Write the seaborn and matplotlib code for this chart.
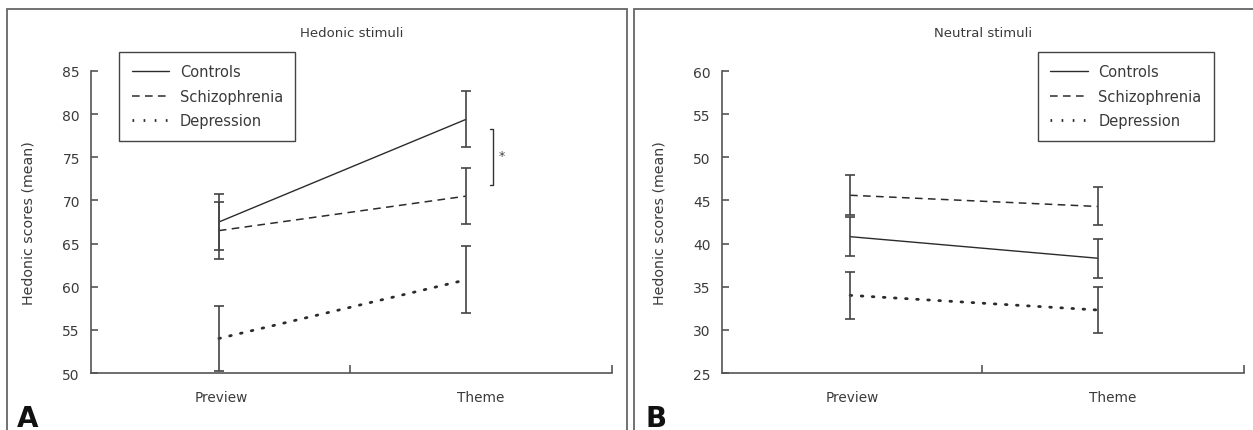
import numpy as np
import pandas as pd
import matplotlib
matplotlib.use('Agg')
import matplotlib.pyplot as plt
import seaborn as sns
from matplotlib.lines import Line2D
from matplotlib.patches import Rectangle

sns.set_theme(style='white')
plt.rcParams['font.family'] = ['DejaVu Sans']

# data
conditions = ['Preview', 'Theme']
groups = ['Controls', 'Schizophrenia', 'Depression']

hedonic_mean = {'Controls': [67.5, 79.4], 'Schizophrenia': [66.5, 70.5], 'Depression': [54.0, 60.8]}
hedonic_err = {'Controls': [3.3, 3.25], 'Schizophrenia': [3.3, 3.25], 'Depression': [3.8, 3.9]}
neutral_mean = {'Controls': [40.8, 38.3], 'Schizophrenia': [45.6, 44.3], 'Depression': [34.0, 32.3]}
neutral_err = {'Controls': [2.25, 2.25], 'Schizophrenia': [2.3, 2.2], 'Depression': [2.7, 2.7]}

hedonic_ticks = [50, 55, 60, 65, 70, 75, 80, 85]
neutral_ticks = [25, 30, 35, 40, 45, 50, 55, 60]

dash_styles = {'Controls': '', 'Schizophrenia': (5, 3.5), 'Depression': (0.6, 3.4)}
line_widths = {'Controls': 1.0, 'Schizophrenia': 1.1, 'Depression': 2.0}
ink = '#2b2b2b'
axis_col = '#555555'
text_col = '#3a3a3a'


def to_frame(means):
    rows = []
    for g in groups:
        for i, c in enumerate(conditions):
            rows.append({'group': g, 'x': i, 'mean': means[g][i]})
    return pd.DataFrame(rows)


def draw_panel(ax, means, errs, ticks, title, legend_anchor):
    df = to_frame(means)
    for g in groups:
        sub = df[df.group == g]
        sns.lineplot(data=sub, x='x', y='mean', ax=ax, color=ink,
                     lw=line_widths[g], legend=False)
        line = ax.lines[-1]
        if dash_styles[g]:
            line.set_dashes(dash_styles[g])
            if g == 'Depression':
                line.set_dash_capstyle('round')
        ax.errorbar(sub['x'], sub['mean'], yerr=errs[g], fmt='none',
                    ecolor='#444444', elinewidth=1.2, capsize=3.5, capthick=1.2)

    ax.set_xlim(-0.517, 1.59)
    ax.set_ylim(ticks[0], ticks[-1])
    ax.set_yticks(ticks)
    ax.set_xticks([0.532, 1.59])
    ax.set_xticklabels([])
    ax.set_xticks([0.008, 1.06], minor=True)
    ax.set_xticklabels(conditions, minor=True)
    ax.tick_params(axis='x', which='major', direction='in', length=6, width=1.2,
                   color=axis_col, bottom=True)
    ax.tick_params(axis='x', which='minor', length=0, pad=12, labelsize=9.8,
                   labelcolor=text_col, bottom=True)
    ax.tick_params(axis='y', direction='in', length=5, width=1.2, color=axis_col, left=True,
                   labelsize=10, labelcolor=text_col, pad=8)
    sns.despine(ax=ax)
    for s in ['left', 'bottom']:
        ax.spines[s].set_color(axis_col)
        ax.spines[s].set_linewidth(1.2)
    ax.set_xlabel('')
    ax.set_ylabel('Hedonic scores (mean)', fontsize=10.2, color=text_col)
    ax.yaxis.set_label_coords(-0.106, 0.5)
    ax.text(0.5, 1.129, title, transform=ax.transAxes, ha='center', va='center',
            fontsize=9.5, color=text_col)

    handles = [Line2D([], [], color=ink, lw=line_widths[g]) for g in groups]
    for h, g in zip(handles, groups):
        if dash_styles[g]:
            h.set_dashes(dash_styles[g])
    leg = ax.legend(handles, groups, loc='upper left', bbox_to_anchor=legend_anchor,
                    borderaxespad=0, frameon=True, fancybox=False, fontsize=10.5,
                    handlelength=2.6, handletextpad=0.7, labelspacing=0.65,
                    borderpad=0.85, framealpha=1)
    leg.get_frame().set_edgecolor('#444444')
    leg.get_frame().set_linewidth(1.0)
    for t in leg.get_texts():
        t.set_color(text_col)


fig = plt.figure(figsize=(12.53, 4.31), dpi=100)
W, H = 1253, 431
ax1 = fig.add_axes([91 / W, 1 - 374 / H, 521 / W, 302 / H])
ax2 = fig.add_axes([722 / W, 1 - 374 / H, 522 / W, 302 / H])

draw_panel(ax1, hedonic_mean, hedonic_err, hedonic_ticks, 'Hedonic stimuli', (0.054, 1.063))
draw_panel(ax2, neutral_mean, neutral_err, neutral_ticks, 'Neutral stimuli', (0.605, 1.063))

# significance bracket between Controls and Schizophrenia at Theme
ax1.plot([1.097, 1.109, 1.109, 1.097], [78.3, 78.3, 71.8, 71.8], color='#333333', lw=1.0)
ax1.text(1.145, 75.2, '*', ha='center', va='center', fontsize=9, color='#444444')

# panel frames
fig.patches.append(Rectangle((7 / W, -0.01), 620 / W, 1 - 10 / H + 0.01, transform=fig.transFigure,
                             fill=False, edgecolor='#666666', lw=1.3))
fig.patches.append(Rectangle((634 / W, -0.01), 625 / W, 1 - 10 / H + 0.01, transform=fig.transFigure,
                             fill=False, edgecolor='#666666', lw=1.3))

fig.text(17 / W, 1 - 427 / H, 'A', fontsize=20, fontweight='bold', color='#111111', ha='left', va='baseline')
fig.text(645 / W, 1 - 427 / H, 'B', fontsize=20, fontweight='bold', color='#111111', ha='left', va='baseline')

fig.savefig('out.png', dpi=100)
